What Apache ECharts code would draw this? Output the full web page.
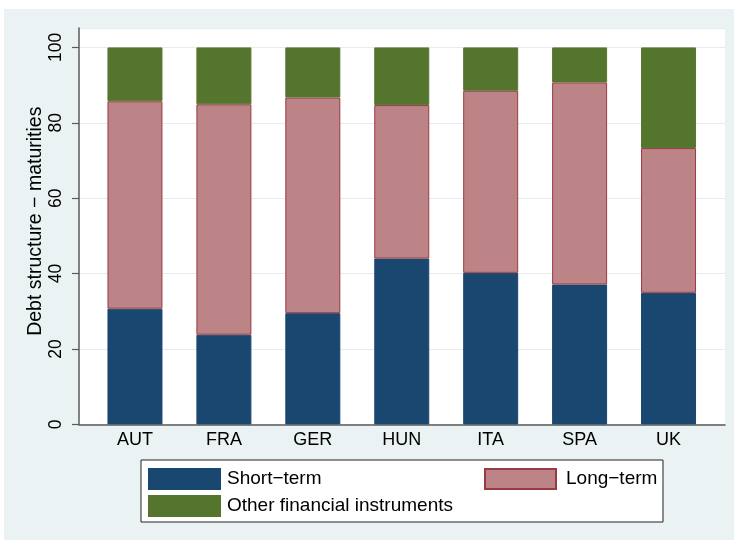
<!DOCTYPE html>
<html>
<head>
<meta charset="utf-8">
<script src="https://cdn.jsdelivr.net/npm/echarts@6/dist/echarts.min.js"></script>
<style>
  html, body { margin: 0; padding: 0; background: #fff; }
  #main { width: 734px; height: 542px; }
</style>
</head>
<body>
<div id="main"></div>
<script>
var countries = ['AUT', 'FRA', 'GER', 'HUN', 'ITA', 'SPA', 'UK'],
    shortTerm = [30.7, 23.8, 29.5, 44.0, 40.2, 37.1, 34.9],
    longTerm = [55.0, 61.1, 57.2, 40.7, 48.3, 53.6, 38.4],
    otherInstr = [14.3, 15.1, 13.3, 15.3, 11.5, 9.3, 26.7],
    yTicks = [0, 20, 40, 60, 80, 100];

var font = 'Liberation Sans, Arial, Helvetica, sans-serif',
    axisGray = '#5b5b5b',
    gridColor = '#e4ecef';

var chart = echarts.init(document.getElementById('main'));

var option = {
    backgroundColor: '#ffffff',
    animation: false,
    textStyle: { fontFamily: font, color: '#000' },
    graphic: [
        // outer graph region
        { type: 'rect', z: -10, shape: { x: 4, y: 9, width: 730, height: 531 },
          style: { fill: '#eaf2f3' } }
    ],
    grid: [
        // plot region (white box, full axis lines)
        { left: 79, right: 9, top: 28, bottom: 117.6, show: true,
          backgroundColor: '#ffffff', borderWidth: 0 },
        // bars
        { left: 90.5, right: 21, top: 47.4, bottom: 117.6 }
    ],
    xAxis: [
        { gridIndex: 0, type: 'value', min: 0, max: 1,
          axisLine: { show: true, onZero: false, lineStyle: { color: axisGray, width: 1.5 } },
          axisTick: { show: false }, axisLabel: { show: false }, splitLine: { show: false } },
        { gridIndex: 1, type: 'category', data: countries,
          axisLine: { show: false }, axisTick: { show: false },
          axisLabel: { fontSize: 18, color: '#000', margin: 7, fontFamily: font } }
    ],
    yAxis: [
        { gridIndex: 0, type: 'value', min: 0, max: 105.15, interval: 20,
          axisLine: { show: true, lineStyle: { color: axisGray, width: 1.5 } },
          axisTick: { show: false }, axisLabel: { show: false },
          splitLine: { show: true, lineStyle: { color: gridColor, width: 1.2 } },
          name: 'Debt structure \u2212 maturities', nameLocation: 'middle', nameGap: 33,
          nameTextStyle: { fontSize: 19.5, color: '#000', fontFamily: font, padding: [0, 0, 0, 10] } },
        { gridIndex: 1, type: 'value', min: 0, max: 100, interval: 20, offset: 11.5,
          axisLine: { show: false },
          axisTick: { show: true, length: 7, lineStyle: { color: axisGray, width: 1.2 } },
          axisLabel: { rotate: 90, fontSize: 17.5, color: '#000', margin: 14, fontFamily: font,
                       formatter: function (v) { return yTicks.indexOf(v) >= 0 ? String(v) : ''; } },
          splitLine: { show: false } }
    ],
    legend: [
        {   // boxed legend: left column, right padding stretches the box
            left: 141, top: 460, orient: 'vertical',
            padding: [8, 210, 5, 7],
            itemGap: 5, itemWidth: 71, itemHeight: 20,
            icon: 'rect',
            backgroundColor: '#ffffff', borderColor: '#222', borderWidth: 1,
            textStyle: { fontSize: 19, lineHeight: 20, color: '#000', fontFamily: font,
                         padding: [0, 0, 0, 2] },
            data: ['Short\u2212term', 'Other financial instruments']
        },
        {   // right column, drawn on top of the box
            left: 484, top: 468, padding: 0, z: 10,
            itemWidth: 71, itemHeight: 20, icon: 'rect',
            textStyle: { fontSize: 19, lineHeight: 20, color: '#000', fontFamily: font,
                         padding: [0, 0, 0, 5] },
            data: ['Long\u2212term']
        }
    ],
    series: [
        { name: 'Short\u2212term', type: 'bar', stack: 'debt', xAxisIndex: 1, yAxisIndex: 1,
          barWidth: 55, data: shortTerm,
          itemStyle: { color: '#1a476f', borderColor: '#1a476f', borderWidth: 1 } },
        { name: 'Long\u2212term', type: 'bar', stack: 'debt', xAxisIndex: 1, yAxisIndex: 1,
          barWidth: 55, data: longTerm,
          itemStyle: { color: '#bc8487', borderColor: '#9b3a42', borderWidth: 1 } },
        { name: 'Other financial instruments', type: 'bar', stack: 'debt', xAxisIndex: 1, yAxisIndex: 1,
          barWidth: 55, data: otherInstr,
          itemStyle: { color: '#55752f', borderColor: '#55752f', borderWidth: 1 } }
    ]
};

chart.setOption(option);
</script>
</body>
</html>
